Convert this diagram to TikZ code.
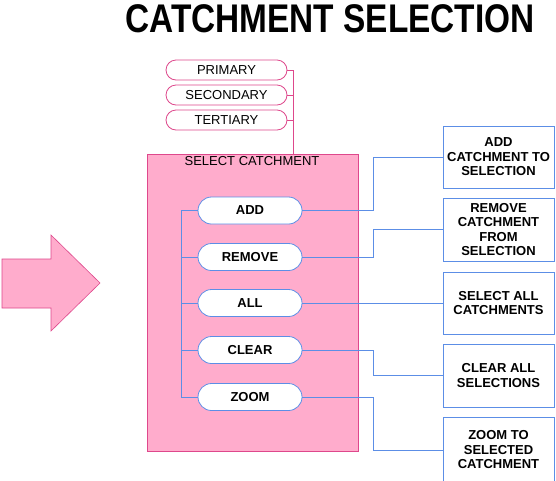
\documentclass[tikz,border=0pt]{standalone}
\usepackage{fontspec}
\setmainfont{Liberation Sans}
\usetikzlibrary{shapes.misc,calc}
\definecolor{pinkfill}{RGB}{255,172,204}
\definecolor{pinkline}{RGB}{222,72,140}
\definecolor{blueline}{RGB}{92,142,230}
\tikzset{
  pill/.style={rounded rectangle, draw=pinkline, line width=0.8pt, fill=white,
    minimum width=121pt, minimum height=20pt, inner sep=0pt,
    font=\fontsize{13}{14}\selectfont},
  btn/.style={rounded rectangle, draw=blueline, line width=0.8pt, fill=white,
    minimum width=104pt, minimum height=27pt, inner sep=0pt,
    font=\fontsize{13}{14}\selectfont\bfseries},
  infobox/.style={rectangle, draw=blueline, line width=0.8pt, fill=white,
    minimum width=111pt, inner sep=0pt, align=center,
    font=\fontsize{13}{14.5}\selectfont\bfseries},
  pinkconn/.style={draw=pinkline, line width=0.8pt},
  blueconn/.style={draw=blueline, line width=0.8pt},
}
\begin{document}
\begin{tikzpicture}[x=1pt,y=-1pt]
\useasboundingbox[fill=white] (0,0) rectangle (556,480);

% title
\node[font=\fontsize{40}{44}\selectfont\bfseries] (title) at (330,19)
  {\scalebox{0.835}[1]{CATCHMENT SELECTION}};

% big arrow
\fill[pinkfill, draw=pinkline, line width=0.6pt]
  (2,259) -- (51,259) -- (51,235) -- (100,283) -- (51,331) -- (51,308) -- (2,308) -- cycle;

% pink panel
\node[rectangle, fill=pinkfill, draw=pinkline, line width=0.8pt,
  minimum width=211pt, minimum height=297pt, inner sep=0pt] (panel) at (252.5,302.5) {};
\node[font=\fontsize{13}{14}\selectfont] (paneltitle) at (252,161) {SELECT CATCHMENT};

% pills
\node[pill] (primary) at (226.5,70) {PRIMARY};
\node[pill] (secondary) at (226.5,95) {SECONDARY};
\node[pill] (tertiary) at (226.5,120) {TERTIARY};
\coordinate (pj) at (293,154);
\draw[pinkconn] (primary.east) -| (pj);
\draw[pinkconn] (secondary.east) -- (secondary.east -| pj);
\draw[pinkconn] (tertiary.east) -- (tertiary.east -| pj);

% buttons
\node[btn] (add) at (250,210.5) {ADD};
\node[btn] (remove) at (250,257) {REMOVE};
\node[btn] (all) at (250,303) {ALL};
\node[btn] (clear) at (250,350) {CLEAR};
\node[btn] (zoom) at (250,397) {ZOOM};

\coordinate (lt) at (181,210.5);
\draw[blueconn] (add.west) -- (lt) -- (lt |- zoom.west) -- (zoom.west);
\draw[blueconn] (remove.west) -- (remove.west -| lt);
\draw[blueconn] (all.west) -- (all.west -| lt);
\draw[blueconn] (clear.west) -- (clear.west -| lt);

% info boxes
\node[infobox, minimum height=62pt] (addbox) at (498.5,157) {ADD\\CATCHMENT TO\\SELECTION};
\node[infobox, minimum height=63pt] (removebox) at (498.5,229.5) {REMOVE\\CATCHMENT\\FROM\\SELECTION};
\node[infobox, minimum height=62pt] (allbox) at (498.5,303) {SELECT ALL\\CATCHMENTS};
\node[infobox, minimum height=63pt] (clearbox) at (498.5,375.5) {CLEAR ALL\\SELECTIONS};
\node[infobox, minimum height=66pt] (zoombox) at (498.5,450) {ZOOM TO\\SELECTED\\CATCHMENT};

\draw[blueconn] (add.east) -- ++(71,0) |- (addbox.west);
\draw[blueconn] (remove.east) -- ++(71,0) |- (removebox.west);
\draw[blueconn] (all.east) -- (allbox.west);
\draw[blueconn] (clear.east) -- ++(71,0) |- (clearbox.west);
\draw[blueconn] (zoom.east) -- ++(71,0) |- (zoombox.west);
\end{tikzpicture}
\end{document}
